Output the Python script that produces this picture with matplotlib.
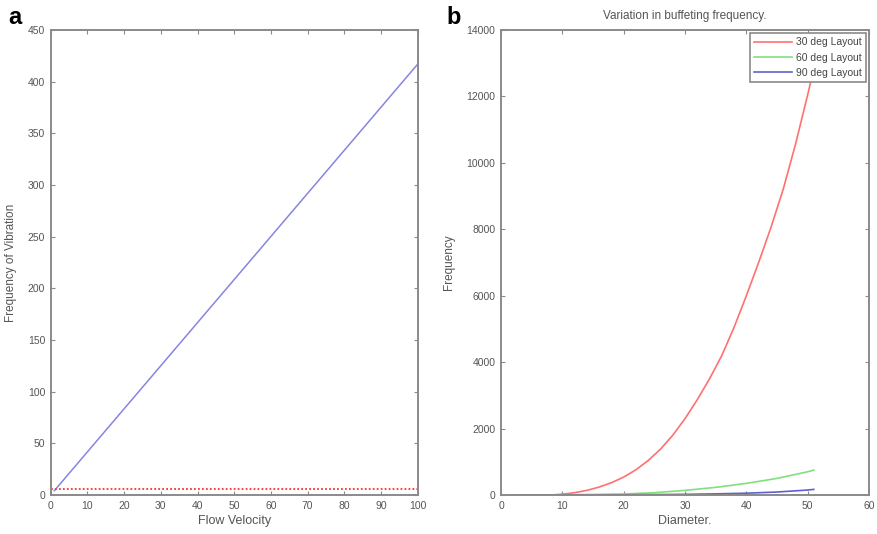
import matplotlib.pyplot as plt

plt.rcParams['font.family'] = ['Liberation Sans', 'DejaVu Sans']

# panel a: frequency of vibration vs flow velocity
velocity = [1, 100]
vib_freq = [4.2, 417]
threshold_v = [0, 100]
threshold_f = [6, 6]

# panel b: buffeting frequency vs diameter
diam_30 = [8, 10, 12, 14, 16, 18, 20, 22, 24, 26, 28, 30, 32, 34, 36, 38, 40, 42, 44, 46, 48, 50, 51]
freq_30 = [0, 25, 70, 140, 240, 370, 540, 760, 1040, 1380, 1800, 2300, 2870, 3500, 4200,
           5050, 6000, 7000, 8050, 9200, 10550, 12050, 12850]
diam_60 = [2, 10, 20, 25, 30, 35, 40, 45, 50, 51]
freq_60 = [0, 5, 30, 70, 140, 230, 350, 500, 700, 750]
diam_90 = [2, 10, 20, 30, 35, 40, 45, 50, 51]
freq_90 = [0, 2, 8, 20, 35, 55, 90, 150, 170]

spine_c = "#8a8a8a"
text_c = "#555555"


def style(ax):
    for s in ax.spines.values():
        s.set_color(spine_c)
        s.set_linewidth(1.4)
    ax.tick_params(direction="in", top=True, right=True, length=3, width=0.8,
                   color=spine_c, labelsize=7.5, labelcolor=text_c, pad=4)


fig = plt.figure(figsize=(8.77, 5.34), dpi=100)
ax1 = fig.add_axes([0.0578, 0.073, 0.4185, 0.8708])
ax2 = fig.add_axes([0.5713, 0.073, 0.4196, 0.8708])

# -- a --
ax1.plot(velocity, vib_freq, color="#8585e2", lw=1.1)
ax1.plot(threshold_v, threshold_f, color="#ff3030", lw=1.3, ls=(0, (1, 1.2)))
ax1.set_xlim(0, 100)
ax1.set_ylim(0, 450)
ax1.set_xticks(range(0, 101, 10))
ax1.set_yticks(range(0, 451, 50))
ax1.set_xlabel("Flow Velocity", fontsize=9, color=text_c, labelpad=3)
ax1.set_ylabel("Frequency of Vibration", fontsize=8.5, color=text_c, labelpad=8)
style(ax1)

# -- b --
ax2.plot(diam_30, freq_30, color="#ff7070", lw=1.2, label="30 deg Layout")
ax2.plot(diam_60, freq_60, color="#80e080", lw=1.2, label="60 deg Layout")
ax2.plot(diam_90, freq_90, color="#6060d0", lw=1.2, label="90 deg Layout")
ax2.set_xlim(0, 60)
ax2.set_ylim(0, 14000)
ax2.set_xticks(range(0, 61, 10))
ax2.set_yticks(range(0, 14001, 2000))
ax2.set_xlabel("Diameter.", fontsize=9, color=text_c, labelpad=3)
ax2.set_ylabel("Frequency", fontsize=8.5, color=text_c, labelpad=8)
ax2.set_title("Variation in buffeting frequency.", fontsize=8.5, color=text_c, pad=8)
style(ax2)
leg = ax2.legend(loc="upper right", fontsize=7.5, fancybox=False, framealpha=1,
                 borderaxespad=0.3, handlelength=3.6, handletextpad=0.4,
                 labelspacing=0.5, borderpad=0.4)
leg.get_frame().set_edgecolor(spine_c)
leg.get_frame().set_linewidth(1.2)
for t in leg.get_texts():
    t.set_color("#444444")

fig.text(0.009, 0.955, "a", fontsize=17, fontweight="bold")
fig.text(0.509, 0.955, "b", fontsize=17, fontweight="bold")

fig.savefig("out.png", dpi=100, facecolor="white")
